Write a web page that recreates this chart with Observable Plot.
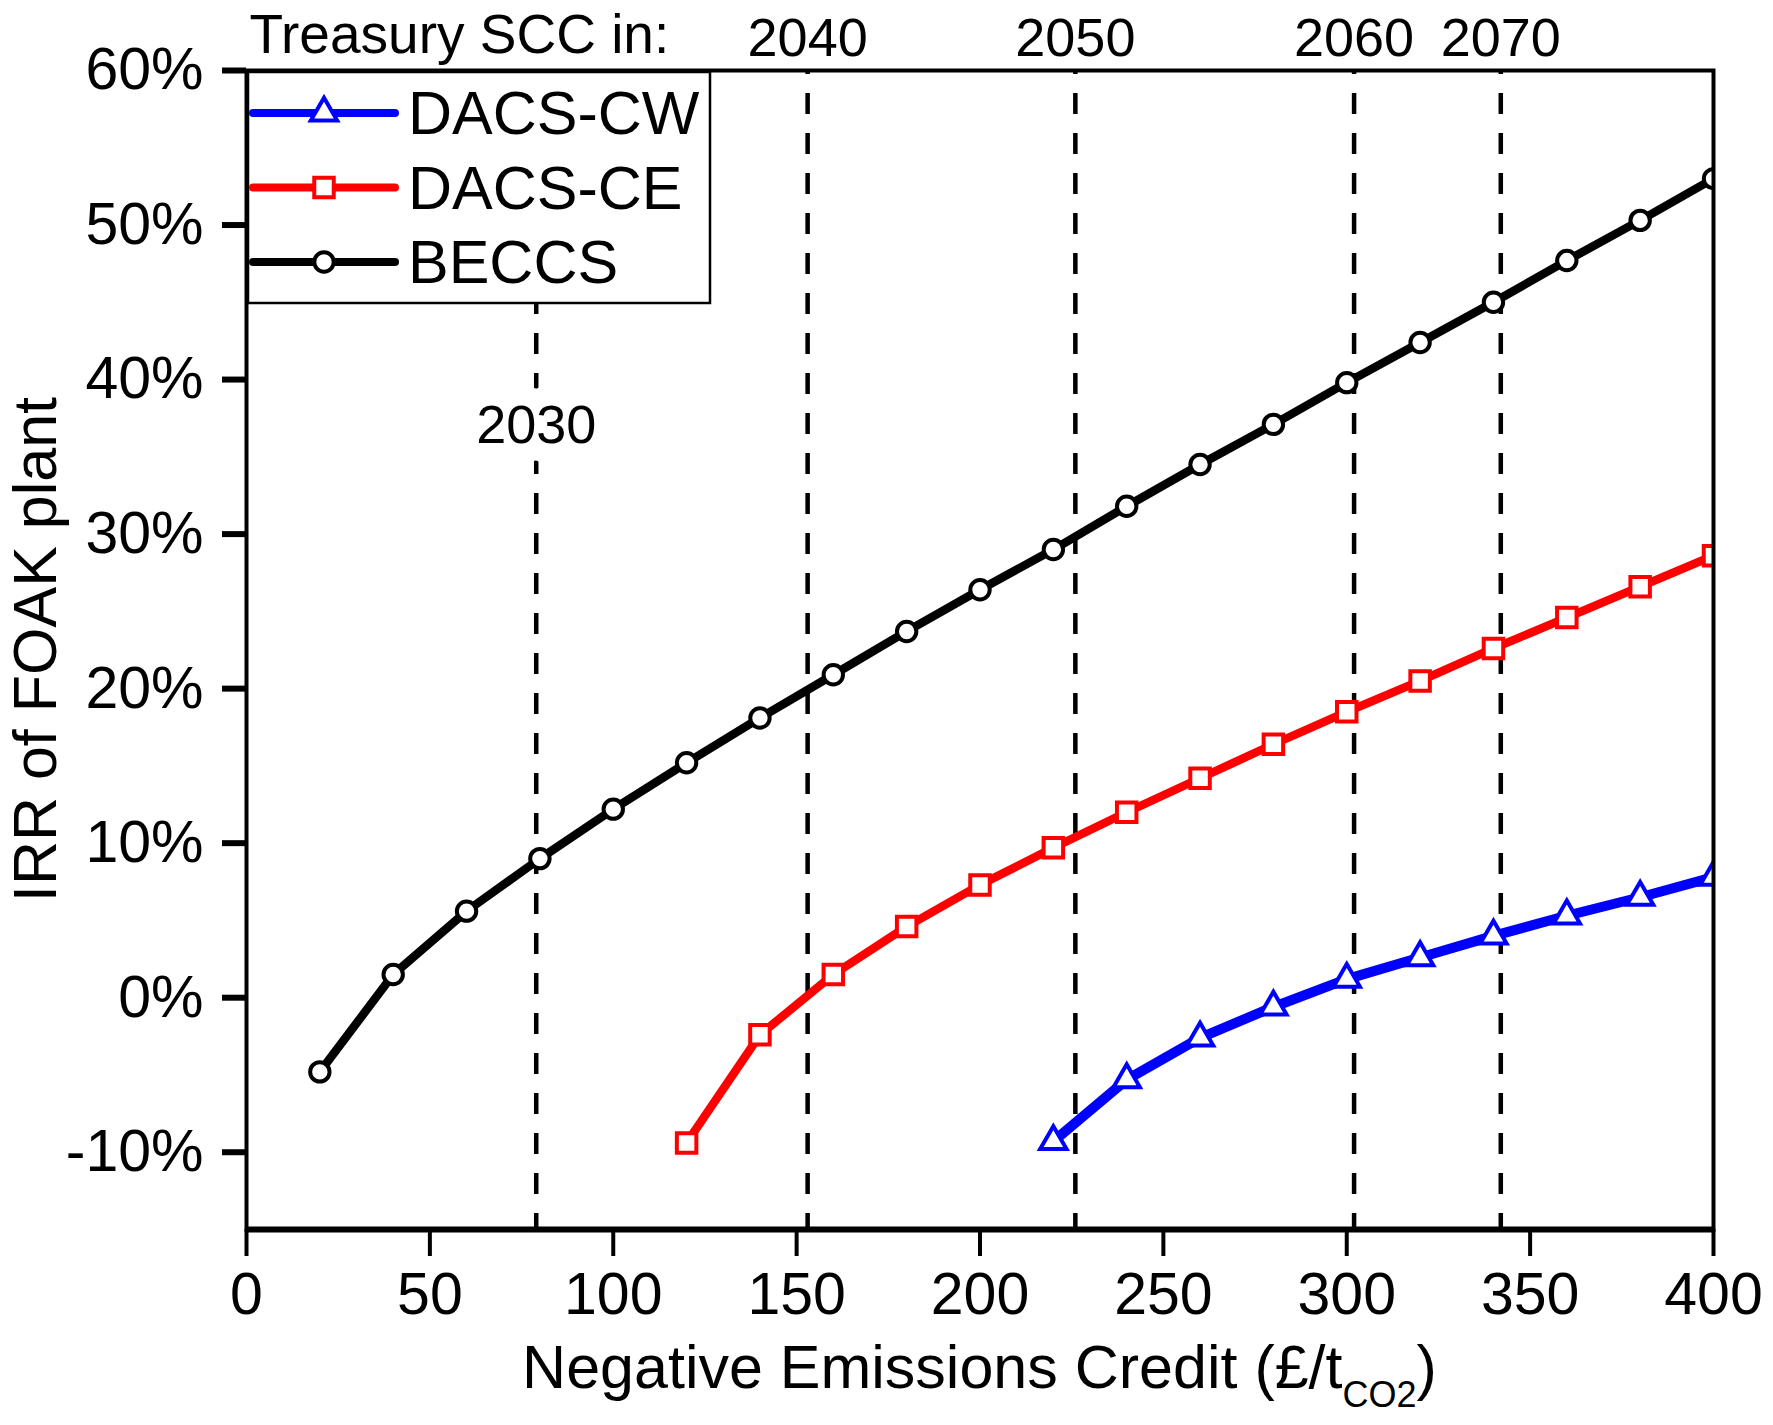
<!DOCTYPE html>
<html><head><meta charset="utf-8">
<script src="https://cdn.jsdelivr.net/npm/d3@7"></script>
<script src="https://cdn.jsdelivr.net/npm/@observablehq/plot@0.6"></script>
<style>
html,body{margin:0;padding:0;background:#fff;}
#chart svg{display:block;}
</style></head><body><div id="chart"></div>
<script>
// ---- data ----
const seriesNames = ["DACS-CW", "DACS-CE", "BECCS"];
const seriesColors = ["#0000ff", "#ff0000", "#000000"];
const seriesSymbols = ["triangle", "square", "circle"];

const beccsCredit = [20,40,60,80,100,120,140,160,180,200,220,240,260,280,300,320,340,360,380,400];
const beccsIRR = [-4.8,1.5,5.6,9.0,12.2,15.2,18.1,20.9,23.7,26.4,29.0,31.8,34.5,37.1,39.8,42.4,45.0,47.7,50.3,53.0];

const dacsCeCredit = [120,140,160,180,200,220,240,260,280,300,320,340,360,380,400];
const dacsCeIRR = [-9.4,-2.4,1.5,4.6,7.3,9.7,12.0,14.2,16.4,18.5,20.5,22.6,24.6,26.6,28.6];

const dacsCwCredit = [220,240,260,280,300,320,340,360,380,400];
const dacsCwIRR = [-9.3,-5.3,-2.6,-0.6,1.2,2.6,4.0,5.3,6.5,7.8];

const sccYears = ["2030","2040","2050","2060","2070"];
const sccCredit = [79,153,226,302,342];
const scc2030LabelY = 37;

const xTicks = [0,50,100,150,200,250,300,350,400];
const yTicks = [-10,0,10,20,30,40,50,60];
const xDomain = [0,400];
const yDomain = [-15,60];

const xLabelMain = "Negative Emissions Credit (£/t";
const xLabelSub = "CO2";
const xLabelEnd = ")";
const yLabel = "IRR of FOAK plant";
const sccTitle = "Treasury SCC in:";

// ---- build tables ----
const seriesData = [
  {name: seriesNames[0], credit: dacsCwCredit, irr: dacsCwIRR, width: 10, r: 9.8, sw: 4},
  {name: seriesNames[1], credit: dacsCeCredit, irr: dacsCeIRR, width: 8.5, r: 11, sw: 4},
  {name: seriesNames[2], credit: beccsCredit, irr: beccsIRR, width: 8.5, r: 9.7, sw: 4}
].map((s, i) => ({...s, color: seriesColors[i], symbol: seriesSymbols[i],
  rows: s.credit.map((c, j) => ({credit: c, irr: s.irr[j]}))}));

const W = 1773, H = 1425, mL = 246, mR = 60, mT = 70, mB = 196;
const FONT = "'Liberation Sans', Arial, Helvetica, sans-serif";

const marks = [
  Plot.ruleX(sccCredit, {stroke: "black", strokeWidth: 4.5, strokeDasharray: "21,19", strokeDashoffset: 17}),
  Plot.text(sccYears.slice(1), {x: sccCredit.slice(1), frameAnchor: "top", lineAnchor: "bottom", dy: -15, fontSize: 54, fill: "black"}),
  Plot.text([sccYears[0]], {x: [sccCredit[0]], y: [scc2030LabelY], fontSize: 54, fill: "black", stroke: "white", strokeWidth: 40, paintOrder: "stroke"}),
  Plot.text([sccTitle], {frameAnchor: "top-left", textAnchor: "start", lineAnchor: "bottom", dx: 3, dy: -18, fontSize: 55, fill: "black"})
];
for (const s of seriesData) {
  marks.push(Plot.line(s.rows, {x: "credit", y: "irr", stroke: s.color, strokeWidth: s.width, clip: true, strokeLinejoin: "round"}));
}
for (const s of seriesData) {
  marks.push(Plot.dot(s.rows, {x: "credit", y: "irr", symbol: () => s.symbol, r: s.r, stroke: s.color, fill: "white", strokeWidth: s.sw, clip: true}));
}
marks.push(
  Plot.frame({stroke: "black", strokeWidth: 4}),
  Plot.ruleY([yDomain[0]], {stroke: "black", strokeWidth: 6}),
  Plot.axisX({ticks: xTicks, tickSize: 27, tickPadding: 16, fontSize: 59, strokeWidth: 4, label: null, tickFormat: d => String(d)}),
  Plot.axisY({ticks: yTicks, tickSize: 24, tickPadding: 19, fontSize: 59, strokeWidth: 6, label: null, tickFormat: d => d + "%"})
);

const chart = Plot.plot({
  width: W, height: H,
  marginLeft: mL, marginRight: mR, marginTop: mT, marginBottom: mB,
  style: {fontFamily: FONT, background: "white", color: "black", overflow: "visible"},
  x: {domain: xDomain, label: null},
  y: {domain: yDomain, label: null},
  symbol: {domain: seriesSymbols, range: seriesSymbols},
  marks
});
document.getElementById("chart").appendChild(chart);

// ---- legend & axis titles (decorations) ----
const svg = d3.select(chart);
const lg = svg.append("g").attr("font-family", FONT).attr("text-anchor", "start");
lg.append("rect").attr("x", mL + 2).attr("y", mT + 2).attr("width", 462).attr("height", 231)
  .attr("fill", "white").attr("stroke", "black").attr("stroke-width", 2.5);
const symMap = {triangle: d3.symbolTriangle, square: d3.symbolSquare, circle: d3.symbolCircle};
seriesData.forEach((s, i) => {
  const cy = mT + 43 + i * 74.5;
  lg.append("line").attr("x1", mL + 7).attr("x2", mL + 149).attr("y1", cy).attr("y2", cy)
    .attr("stroke", s.color).attr("stroke-width", 8).attr("stroke-linecap", "round");
  lg.append("path").attr("d", d3.symbol(symMap[s.symbol], Math.PI * s.r * s.r)())
    .attr("transform", `translate(${mL + 78},${cy})`)
    .attr("fill", "white").attr("stroke", s.color).attr("stroke-width", s.sw);
  lg.append("text").attr("x", mL + 162).attr("y", cy).attr("dy", "0.35em")
    .attr("text-anchor", "start")
    .attr("font-size", 61).attr("fill", "black").text(s.name);
});

const plotCx = mL + (W - mL - mR) / 2;
const plotCy = mT + (H - mT - mB) / 2;
const xl = svg.append("text").attr("font-family", FONT).attr("font-size", 61).attr("fill", "black")
  .attr("text-anchor", "middle").attr("x", plotCx).attr("y", 1388);
xl.append("tspan").text(xLabelMain);
xl.append("tspan").attr("font-size", 36).attr("dy", 19).text(xLabelSub);
xl.append("tspan").attr("dy", -19).text(xLabelEnd);

svg.append("text").attr("font-family", FONT).attr("font-size", 61).attr("fill", "black")
  .attr("text-anchor", "middle").attr("transform", `translate(56,${plotCy}) rotate(-90)`).text(yLabel);
</script>
</body></html>
